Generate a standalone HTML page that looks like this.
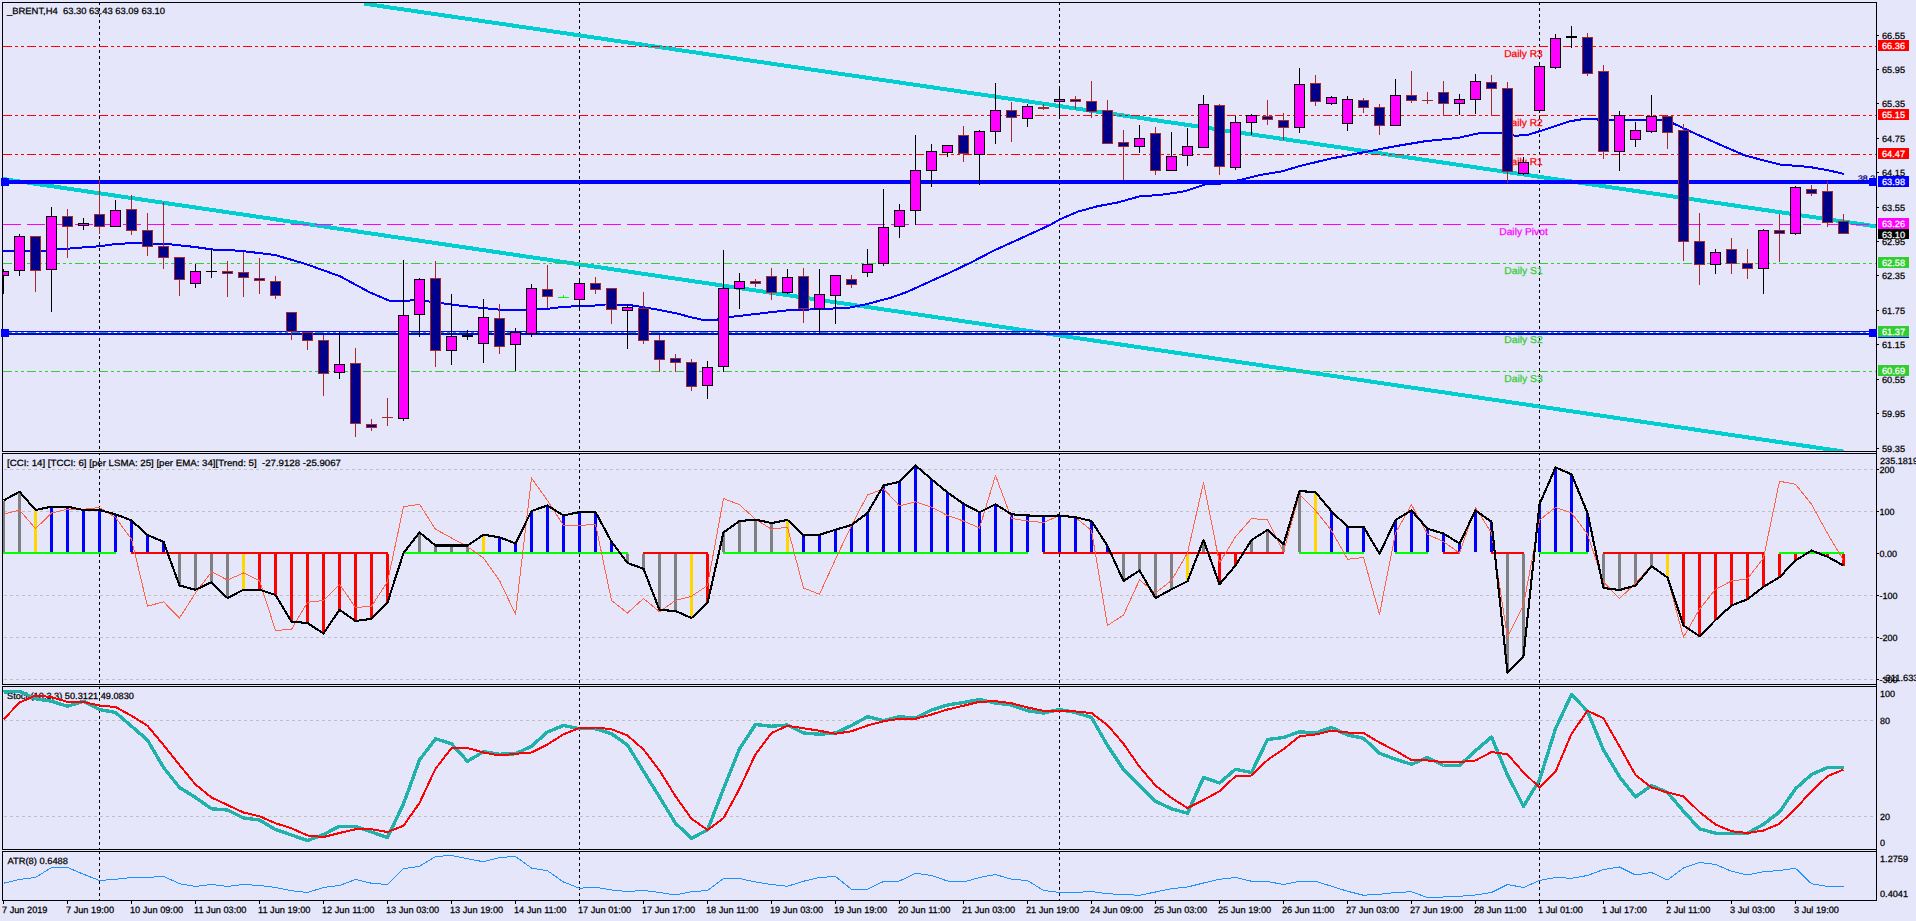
<!DOCTYPE html>
<html><head><meta charset="utf-8"><title>BRENT H4</title>
<style>html,body{margin:0;padding:0;background:#E6E6FA;overflow:hidden}svg{display:block}text{font-family:"Liberation Sans",sans-serif;text-rendering:geometricPrecision}</style>
</head><body>
<svg width="1916" height="921" viewBox="0 0 1916 921" font-family='"Liberation Sans", sans-serif' shape-rendering="crispEdges">
<rect x="0" y="0" width="1916" height="921" fill="#E6E6FA"/>
<defs><clipPath id="cm"><rect x="3" y="3" width="1873" height="448"/></clipPath><clipPath id="cc"><rect x="3" y="454" width="1873" height="230"/></clipPath><clipPath id="cs"><rect x="3" y="687" width="1873" height="162"/></clipPath><clipPath id="ca"><rect x="3" y="852" width="1873" height="48"/></clipPath></defs>
<g clip-path="url(#cm)">
<line x1="99.5" y1="2" x2="99.5" y2="451" stroke="#000" stroke-width="1" stroke-dasharray="3 3"/>
<line x1="579.5" y1="2" x2="579.5" y2="451" stroke="#000" stroke-width="1" stroke-dasharray="3 3"/>
<line x1="1059.5" y1="2" x2="1059.5" y2="451" stroke="#000" stroke-width="1" stroke-dasharray="3 3"/>
<line x1="1539.5" y1="2" x2="1539.5" y2="451" stroke="#000" stroke-width="1" stroke-dasharray="3 3"/>
<line x1="364" y1="3.63" x2="1876" y2="226.36" stroke="#00CED1" stroke-width="4"/>
<line x1="3" y1="179.00" x2="1843.5" y2="451.56" stroke="#00CED1" stroke-width="4"/>
<rect x="3" y="180" width="1873" height="4" fill="#0000FF"/>
<rect x="3" y="331" width="1873" height="4" fill="#0000FF"/>
<line x1="3" y1="332.5" x2="1876" y2="332.5" stroke="#FFFFFF" stroke-width="1"/>
<line x1="3" y1="46.5" x2="1876" y2="46.5" stroke="#FF0000" stroke-width="1" stroke-dasharray="9 3 3 3 3 3"/>
<line x1="3" y1="115.5" x2="1876" y2="115.5" stroke="#FF0000" stroke-width="1" stroke-dasharray="9 3 3 3 3 3"/>
<line x1="3" y1="154.5" x2="1876" y2="154.5" stroke="#FF0000" stroke-width="1" stroke-dasharray="9 3 3 3 3 3"/>
<line x1="3" y1="224.5" x2="1876" y2="224.5" stroke="#FF00FF" stroke-width="1" stroke-dasharray="18 6"/>
<line x1="3" y1="263.5" x2="1876" y2="263.5" stroke="#32CD32" stroke-width="1" stroke-dasharray="9 3 3 3 3 3"/>
<line x1="3" y1="332.5" x2="1876" y2="332.5" stroke="#22B422" stroke-width="1" stroke-dasharray="9 3 3 3 3 3"/>
<line x1="3" y1="371.5" x2="1876" y2="371.5" stroke="#32CD32" stroke-width="1" stroke-dasharray="9 3 3 3 3 3"/>
<text x="1523.5" y="57" font-size="10" fill="#FF0000" stroke="#FF0000" stroke-width="0.25" text-anchor="middle" textLength="38.5" lengthAdjust="spacingAndGlyphs" xml:space="preserve">Daily R3</text>
<text x="1523.5" y="126" font-size="10" fill="#FF0000" stroke="#FF0000" stroke-width="0.25" text-anchor="middle" textLength="38.5" lengthAdjust="spacingAndGlyphs" xml:space="preserve">Daily R2</text>
<text x="1523.5" y="165" font-size="10" fill="#FF0000" stroke="#FF0000" stroke-width="0.25" text-anchor="middle" textLength="38.5" lengthAdjust="spacingAndGlyphs" xml:space="preserve">Daily R1</text>
<text x="1523.5" y="235" font-size="10" fill="#FF00FF" stroke="#FF00FF" stroke-width="0.25" text-anchor="middle" textLength="48.5" lengthAdjust="spacingAndGlyphs" xml:space="preserve">Daily Pivot</text>
<text x="1523.5" y="274" font-size="10" fill="#32CD32" stroke="#32CD32" stroke-width="0.25" text-anchor="middle" textLength="38.5" lengthAdjust="spacingAndGlyphs" xml:space="preserve">Daily S1</text>
<text x="1523.5" y="343" font-size="10" fill="#32CD32" stroke="#32CD32" stroke-width="0.25" text-anchor="middle" textLength="38.5" lengthAdjust="spacingAndGlyphs" xml:space="preserve">Daily S2</text>
<text x="1523.5" y="382" font-size="10" fill="#32CD32" stroke="#32CD32" stroke-width="0.25" text-anchor="middle" textLength="38.5" lengthAdjust="spacingAndGlyphs" xml:space="preserve">Daily S3</text>
<polyline points="3.00,251.25 25.00,251.25 42.50,251.25 57.50,249.50 82.50,247.50 100.00,246.25 117.50,243.75 140.00,243.00 170.00,244.25 195.00,247.00 212.50,249.50 240.00,250.75 275.00,255.00 305.00,263.75 340.00,276.25 370.00,292.50 388.75,300.50 410.00,300.50 415.00,299.50 440.00,303.00 447.50,304.00 465.00,306.25 490.00,308.75 502.50,310.00 525.00,310.00 547.50,308.75 565.00,306.75 595.00,305.50 605.00,304.50 627.50,304.70 650.00,308.25 675.00,313.00 690.00,317.00 702.50,319.75 715.00,320.00 730.00,317.00 757.50,313.75 790.00,310.00 820.00,309.25 850.00,307.50 865.00,304.50 890.00,298.00 907.50,291.75 925.00,283.75 950.00,272.50 970.00,263.00 995.00,250.00 1020.00,238.75 1050.00,225.00 1060.00,219.25 1077.50,211.75 1097.50,206.25 1117.50,202.50 1140.00,196.25 1160.00,195.00 1185.00,191.25 1205.00,184.50 1220.00,183.75 1240.00,180.00 1260.00,175.00 1282.50,171.25 1300.00,166.00 1330.00,158.75 1362.50,152.50 1395.00,146.25 1425.00,141.25 1457.50,138.00 1480.00,133.00 1497.50,132.50 1515.00,135.75 1527.50,135.00 1545.00,129.50 1570.00,121.25 1585.00,118.75 1595.00,119.00 1600.00,120.00 1660.00,120.00 1672.50,123.00 1690.00,131.25 1715.00,142.50 1745.00,155.50 1779.50,164.50 1809.50,167.00 1827.00,170.00 1844.00,174.00" fill="none" stroke="#0000FF" stroke-width="2" stroke-linejoin="round"/>
<rect x="3" y="269" width="1" height="25" fill="#000000"/>
<rect x="-2" y="271" width="11" height="5" fill="#000000"/>
<rect x="-1" y="272" width="9" height="3" fill="#FF00FF"/>
<rect x="19" y="234" width="1" height="42" fill="#000000"/>
<rect x="14" y="236" width="11" height="35" fill="#000000"/>
<rect x="15" y="237" width="9" height="33" fill="#FF00FF"/>
<rect x="35" y="236" width="1" height="56" fill="#A52A2A"/>
<rect x="30" y="236" width="11" height="35" fill="#A52A2A"/>
<rect x="31" y="237" width="9" height="33" fill="#00008B"/>
<rect x="51" y="207" width="1" height="105" fill="#000000"/>
<rect x="46" y="216" width="11" height="54" fill="#000000"/>
<rect x="47" y="217" width="9" height="52" fill="#FF00FF"/>
<rect x="67" y="209" width="1" height="49" fill="#A52A2A"/>
<rect x="62" y="216" width="11" height="11" fill="#A52A2A"/>
<rect x="63" y="217" width="9" height="9" fill="#00008B"/>
<rect x="83" y="218" width="1" height="12" fill="#000000"/>
<rect x="78" y="223" width="11" height="3" fill="#000000"/>
<rect x="79" y="224" width="9" height="1" fill="#FF00FF"/>
<rect x="99" y="179" width="1" height="55" fill="#A52A2A"/>
<rect x="94" y="214" width="11" height="13" fill="#A52A2A"/>
<rect x="95" y="215" width="9" height="11" fill="#00008B"/>
<rect x="115" y="200" width="1" height="27" fill="#000000"/>
<rect x="110" y="210" width="11" height="17" fill="#000000"/>
<rect x="111" y="211" width="9" height="15" fill="#FF00FF"/>
<rect x="131" y="195" width="1" height="40" fill="#A52A2A"/>
<rect x="126" y="209" width="11" height="22" fill="#A52A2A"/>
<rect x="127" y="210" width="9" height="20" fill="#00008B"/>
<rect x="147" y="213" width="1" height="43" fill="#A52A2A"/>
<rect x="142" y="230" width="11" height="17" fill="#A52A2A"/>
<rect x="143" y="231" width="9" height="15" fill="#00008B"/>
<rect x="163" y="202" width="1" height="67" fill="#A52A2A"/>
<rect x="158" y="246" width="11" height="12" fill="#A52A2A"/>
<rect x="159" y="247" width="9" height="10" fill="#00008B"/>
<rect x="179" y="257" width="1" height="39" fill="#A52A2A"/>
<rect x="174" y="257" width="11" height="23" fill="#A52A2A"/>
<rect x="175" y="258" width="9" height="21" fill="#00008B"/>
<rect x="195" y="264" width="1" height="24" fill="#000000"/>
<rect x="190" y="271" width="11" height="13" fill="#000000"/>
<rect x="191" y="272" width="9" height="11" fill="#FF00FF"/>
<rect x="211" y="249" width="1" height="29" fill="#000000"/>
<rect x="206" y="271" width="11" height="1" fill="#000000"/>
<rect x="227" y="261" width="1" height="36" fill="#A52A2A"/>
<rect x="222" y="271" width="11" height="3" fill="#A52A2A"/>
<rect x="223" y="272" width="9" height="1" fill="#00008B"/>
<rect x="243" y="252" width="1" height="45" fill="#A52A2A"/>
<rect x="238" y="272" width="11" height="6" fill="#A52A2A"/>
<rect x="239" y="273" width="9" height="4" fill="#00008B"/>
<rect x="259" y="258" width="1" height="36" fill="#A52A2A"/>
<rect x="254" y="278" width="11" height="3" fill="#A52A2A"/>
<rect x="255" y="279" width="9" height="1" fill="#00008B"/>
<rect x="275" y="276" width="1" height="23" fill="#A52A2A"/>
<rect x="270" y="281" width="11" height="15" fill="#A52A2A"/>
<rect x="271" y="282" width="9" height="13" fill="#00008B"/>
<rect x="291" y="312" width="1" height="28" fill="#A52A2A"/>
<rect x="286" y="312" width="11" height="20" fill="#A52A2A"/>
<rect x="287" y="313" width="9" height="18" fill="#00008B"/>
<rect x="307" y="332" width="1" height="18" fill="#A52A2A"/>
<rect x="302" y="332" width="11" height="9" fill="#A52A2A"/>
<rect x="303" y="333" width="9" height="7" fill="#00008B"/>
<rect x="323" y="335" width="1" height="61" fill="#A52A2A"/>
<rect x="318" y="340" width="11" height="34" fill="#A52A2A"/>
<rect x="319" y="341" width="9" height="32" fill="#00008B"/>
<rect x="339" y="332" width="1" height="47" fill="#000000"/>
<rect x="334" y="364" width="11" height="9" fill="#000000"/>
<rect x="335" y="365" width="9" height="7" fill="#FF00FF"/>
<rect x="355" y="348" width="1" height="89" fill="#A52A2A"/>
<rect x="350" y="363" width="11" height="61" fill="#A52A2A"/>
<rect x="351" y="364" width="9" height="59" fill="#00008B"/>
<rect x="371" y="419" width="1" height="12" fill="#A52A2A"/>
<rect x="366" y="424" width="11" height="4" fill="#A52A2A"/>
<rect x="367" y="425" width="9" height="2" fill="#00008B"/>
<rect x="387" y="398" width="1" height="28" fill="#A52A2A"/>
<rect x="382" y="417" width="11" height="1" fill="#A52A2A"/>
<rect x="403" y="260" width="1" height="161" fill="#000000"/>
<rect x="398" y="315" width="11" height="104" fill="#000000"/>
<rect x="399" y="316" width="9" height="102" fill="#FF00FF"/>
<rect x="419" y="278" width="1" height="59" fill="#000000"/>
<rect x="414" y="279" width="11" height="36" fill="#000000"/>
<rect x="415" y="280" width="9" height="34" fill="#FF00FF"/>
<rect x="435" y="261" width="1" height="106" fill="#A52A2A"/>
<rect x="430" y="278" width="11" height="73" fill="#A52A2A"/>
<rect x="431" y="279" width="9" height="71" fill="#00008B"/>
<rect x="451" y="294" width="1" height="71" fill="#000000"/>
<rect x="446" y="336" width="11" height="15" fill="#000000"/>
<rect x="447" y="337" width="9" height="13" fill="#FF00FF"/>
<rect x="467" y="330" width="1" height="10" fill="#000000"/>
<rect x="462" y="335" width="11" height="2" fill="#000000"/>
<rect x="483" y="299" width="1" height="64" fill="#000000"/>
<rect x="478" y="317" width="11" height="27" fill="#000000"/>
<rect x="479" y="318" width="9" height="25" fill="#FF00FF"/>
<rect x="499" y="304" width="1" height="50" fill="#A52A2A"/>
<rect x="494" y="318" width="11" height="29" fill="#A52A2A"/>
<rect x="495" y="319" width="9" height="27" fill="#00008B"/>
<rect x="515" y="328" width="1" height="43" fill="#000000"/>
<rect x="510" y="332" width="11" height="13" fill="#000000"/>
<rect x="511" y="333" width="9" height="11" fill="#FF00FF"/>
<rect x="531" y="284" width="1" height="53" fill="#000000"/>
<rect x="526" y="288" width="11" height="46" fill="#000000"/>
<rect x="527" y="289" width="9" height="44" fill="#FF00FF"/>
<rect x="547" y="265" width="1" height="43" fill="#A52A2A"/>
<rect x="542" y="289" width="11" height="8" fill="#A52A2A"/>
<rect x="543" y="290" width="9" height="6" fill="#00008B"/>
<rect x="563" y="295" width="1" height="3" fill="#00FF00"/>
<rect x="558" y="297" width="11" height="1" fill="#00FF00"/>
<rect x="579" y="278" width="1" height="32" fill="#000000"/>
<rect x="574" y="283" width="11" height="17" fill="#000000"/>
<rect x="575" y="284" width="9" height="15" fill="#FF00FF"/>
<rect x="595" y="277" width="1" height="17" fill="#A52A2A"/>
<rect x="590" y="283" width="11" height="7" fill="#A52A2A"/>
<rect x="591" y="284" width="9" height="5" fill="#00008B"/>
<rect x="611" y="288" width="1" height="36" fill="#A52A2A"/>
<rect x="606" y="288" width="11" height="22" fill="#A52A2A"/>
<rect x="607" y="289" width="9" height="20" fill="#00008B"/>
<rect x="627" y="304" width="1" height="45" fill="#000000"/>
<rect x="622" y="307" width="11" height="4" fill="#000000"/>
<rect x="623" y="308" width="9" height="2" fill="#FF00FF"/>
<rect x="643" y="292" width="1" height="52" fill="#A52A2A"/>
<rect x="638" y="308" width="11" height="33" fill="#A52A2A"/>
<rect x="639" y="309" width="9" height="31" fill="#00008B"/>
<rect x="659" y="335" width="1" height="37" fill="#A52A2A"/>
<rect x="654" y="340" width="11" height="20" fill="#A52A2A"/>
<rect x="655" y="341" width="9" height="18" fill="#00008B"/>
<rect x="675" y="354" width="1" height="18" fill="#A52A2A"/>
<rect x="670" y="358" width="11" height="5" fill="#A52A2A"/>
<rect x="671" y="359" width="9" height="3" fill="#00008B"/>
<rect x="691" y="359" width="1" height="32" fill="#A52A2A"/>
<rect x="686" y="362" width="11" height="25" fill="#A52A2A"/>
<rect x="687" y="363" width="9" height="23" fill="#00008B"/>
<rect x="707" y="361" width="1" height="38" fill="#000000"/>
<rect x="702" y="367" width="11" height="19" fill="#000000"/>
<rect x="703" y="368" width="9" height="17" fill="#FF00FF"/>
<rect x="723" y="250" width="1" height="122" fill="#000000"/>
<rect x="718" y="288" width="11" height="79" fill="#000000"/>
<rect x="719" y="289" width="9" height="77" fill="#FF00FF"/>
<rect x="739" y="273" width="1" height="36" fill="#000000"/>
<rect x="734" y="281" width="11" height="8" fill="#000000"/>
<rect x="735" y="282" width="9" height="6" fill="#FF00FF"/>
<rect x="755" y="279" width="1" height="8" fill="#A52A2A"/>
<rect x="750" y="281" width="11" height="3" fill="#A52A2A"/>
<rect x="751" y="282" width="9" height="1" fill="#00008B"/>
<rect x="771" y="268" width="1" height="32" fill="#A52A2A"/>
<rect x="766" y="276" width="11" height="17" fill="#A52A2A"/>
<rect x="767" y="277" width="9" height="15" fill="#00008B"/>
<rect x="787" y="269" width="1" height="25" fill="#000000"/>
<rect x="782" y="277" width="11" height="16" fill="#000000"/>
<rect x="783" y="278" width="9" height="14" fill="#FF00FF"/>
<rect x="803" y="268" width="1" height="55" fill="#A52A2A"/>
<rect x="798" y="276" width="11" height="33" fill="#A52A2A"/>
<rect x="799" y="277" width="9" height="31" fill="#00008B"/>
<rect x="819" y="269" width="1" height="65" fill="#000000"/>
<rect x="814" y="294" width="11" height="15" fill="#000000"/>
<rect x="815" y="295" width="9" height="13" fill="#FF00FF"/>
<rect x="835" y="275" width="1" height="49" fill="#000000"/>
<rect x="830" y="275" width="11" height="21" fill="#000000"/>
<rect x="831" y="276" width="9" height="19" fill="#FF00FF"/>
<rect x="851" y="275" width="1" height="13" fill="#A52A2A"/>
<rect x="846" y="279" width="11" height="6" fill="#A52A2A"/>
<rect x="847" y="280" width="9" height="4" fill="#00008B"/>
<rect x="867" y="249" width="1" height="28" fill="#000000"/>
<rect x="862" y="264" width="11" height="9" fill="#000000"/>
<rect x="863" y="265" width="9" height="7" fill="#FF00FF"/>
<rect x="883" y="189" width="1" height="77" fill="#000000"/>
<rect x="878" y="227" width="11" height="37" fill="#000000"/>
<rect x="879" y="228" width="9" height="35" fill="#FF00FF"/>
<rect x="899" y="204" width="1" height="34" fill="#000000"/>
<rect x="894" y="210" width="11" height="17" fill="#000000"/>
<rect x="895" y="211" width="9" height="15" fill="#FF00FF"/>
<rect x="915" y="135" width="1" height="90" fill="#000000"/>
<rect x="910" y="170" width="11" height="41" fill="#000000"/>
<rect x="911" y="171" width="9" height="39" fill="#FF00FF"/>
<rect x="931" y="144" width="1" height="43" fill="#000000"/>
<rect x="926" y="151" width="11" height="20" fill="#000000"/>
<rect x="927" y="152" width="9" height="18" fill="#FF00FF"/>
<rect x="947" y="145" width="1" height="12" fill="#000000"/>
<rect x="942" y="145" width="11" height="8" fill="#000000"/>
<rect x="943" y="146" width="9" height="6" fill="#FF00FF"/>
<rect x="963" y="126" width="1" height="36" fill="#A52A2A"/>
<rect x="958" y="135" width="11" height="19" fill="#A52A2A"/>
<rect x="959" y="136" width="9" height="17" fill="#00008B"/>
<rect x="979" y="130" width="1" height="55" fill="#000000"/>
<rect x="974" y="131" width="11" height="24" fill="#000000"/>
<rect x="975" y="132" width="9" height="22" fill="#FF00FF"/>
<rect x="995" y="83" width="1" height="61" fill="#000000"/>
<rect x="990" y="110" width="11" height="22" fill="#000000"/>
<rect x="991" y="111" width="9" height="20" fill="#FF00FF"/>
<rect x="1011" y="102" width="1" height="40" fill="#A52A2A"/>
<rect x="1006" y="110" width="11" height="8" fill="#A52A2A"/>
<rect x="1007" y="111" width="9" height="6" fill="#00008B"/>
<rect x="1027" y="104" width="1" height="23" fill="#000000"/>
<rect x="1022" y="106" width="11" height="13" fill="#000000"/>
<rect x="1023" y="107" width="9" height="11" fill="#FF00FF"/>
<rect x="1043" y="104" width="1" height="6" fill="#A52A2A"/>
<rect x="1038" y="107" width="11" height="2" fill="#A52A2A"/>
<rect x="1059" y="86" width="1" height="33" fill="#000000"/>
<rect x="1054" y="99" width="11" height="3" fill="#000000"/>
<rect x="1055" y="100" width="9" height="1" fill="#FF00FF"/>
<rect x="1075" y="96" width="1" height="13" fill="#A52A2A"/>
<rect x="1070" y="99" width="11" height="3" fill="#A52A2A"/>
<rect x="1071" y="100" width="9" height="1" fill="#00008B"/>
<rect x="1091" y="81" width="1" height="37" fill="#A52A2A"/>
<rect x="1086" y="101" width="11" height="11" fill="#A52A2A"/>
<rect x="1087" y="102" width="9" height="9" fill="#00008B"/>
<rect x="1107" y="100" width="1" height="44" fill="#A52A2A"/>
<rect x="1102" y="110" width="11" height="34" fill="#A52A2A"/>
<rect x="1103" y="111" width="9" height="32" fill="#00008B"/>
<rect x="1123" y="130" width="1" height="50" fill="#A52A2A"/>
<rect x="1118" y="142" width="11" height="5" fill="#A52A2A"/>
<rect x="1119" y="143" width="9" height="3" fill="#00008B"/>
<rect x="1139" y="125" width="1" height="28" fill="#000000"/>
<rect x="1134" y="138" width="11" height="9" fill="#000000"/>
<rect x="1135" y="139" width="9" height="7" fill="#FF00FF"/>
<rect x="1155" y="127" width="1" height="48" fill="#A52A2A"/>
<rect x="1150" y="133" width="11" height="38" fill="#A52A2A"/>
<rect x="1151" y="134" width="9" height="36" fill="#00008B"/>
<rect x="1171" y="132" width="1" height="39" fill="#000000"/>
<rect x="1166" y="156" width="11" height="15" fill="#000000"/>
<rect x="1167" y="157" width="9" height="13" fill="#FF00FF"/>
<rect x="1187" y="128" width="1" height="38" fill="#000000"/>
<rect x="1182" y="146" width="11" height="10" fill="#000000"/>
<rect x="1183" y="147" width="9" height="8" fill="#FF00FF"/>
<rect x="1203" y="95" width="1" height="53" fill="#000000"/>
<rect x="1198" y="104" width="11" height="44" fill="#000000"/>
<rect x="1199" y="105" width="9" height="42" fill="#FF00FF"/>
<rect x="1219" y="104" width="1" height="71" fill="#A52A2A"/>
<rect x="1214" y="105" width="11" height="62" fill="#A52A2A"/>
<rect x="1215" y="106" width="9" height="60" fill="#00008B"/>
<rect x="1235" y="116" width="1" height="54" fill="#000000"/>
<rect x="1230" y="122" width="11" height="46" fill="#000000"/>
<rect x="1231" y="123" width="9" height="44" fill="#FF00FF"/>
<rect x="1251" y="114" width="1" height="21" fill="#000000"/>
<rect x="1246" y="115" width="11" height="8" fill="#000000"/>
<rect x="1247" y="116" width="9" height="6" fill="#FF00FF"/>
<rect x="1267" y="100" width="1" height="25" fill="#A52A2A"/>
<rect x="1262" y="116" width="11" height="4" fill="#A52A2A"/>
<rect x="1263" y="117" width="9" height="2" fill="#00008B"/>
<rect x="1283" y="113" width="1" height="27" fill="#A52A2A"/>
<rect x="1278" y="120" width="11" height="8" fill="#A52A2A"/>
<rect x="1279" y="121" width="9" height="6" fill="#00008B"/>
<rect x="1299" y="68" width="1" height="65" fill="#000000"/>
<rect x="1294" y="84" width="11" height="44" fill="#000000"/>
<rect x="1295" y="85" width="9" height="42" fill="#FF00FF"/>
<rect x="1315" y="75" width="1" height="31" fill="#A52A2A"/>
<rect x="1310" y="83" width="11" height="19" fill="#A52A2A"/>
<rect x="1311" y="84" width="9" height="17" fill="#00008B"/>
<rect x="1331" y="96" width="1" height="9" fill="#000000"/>
<rect x="1326" y="97" width="11" height="7" fill="#000000"/>
<rect x="1327" y="98" width="9" height="5" fill="#FF00FF"/>
<rect x="1347" y="96" width="1" height="35" fill="#000000"/>
<rect x="1342" y="99" width="11" height="25" fill="#000000"/>
<rect x="1343" y="100" width="9" height="23" fill="#FF00FF"/>
<rect x="1363" y="98" width="1" height="15" fill="#A52A2A"/>
<rect x="1358" y="100" width="11" height="8" fill="#A52A2A"/>
<rect x="1359" y="101" width="9" height="6" fill="#00008B"/>
<rect x="1379" y="104" width="1" height="31" fill="#A52A2A"/>
<rect x="1374" y="107" width="11" height="19" fill="#A52A2A"/>
<rect x="1375" y="108" width="9" height="17" fill="#00008B"/>
<rect x="1395" y="79" width="1" height="47" fill="#000000"/>
<rect x="1390" y="95" width="11" height="31" fill="#000000"/>
<rect x="1391" y="96" width="9" height="29" fill="#FF00FF"/>
<rect x="1411" y="71" width="1" height="32" fill="#A52A2A"/>
<rect x="1406" y="95" width="11" height="6" fill="#A52A2A"/>
<rect x="1407" y="96" width="9" height="4" fill="#00008B"/>
<rect x="1427" y="92" width="1" height="12" fill="#A52A2A"/>
<rect x="1422" y="100" width="11" height="1" fill="#A52A2A"/>
<rect x="1443" y="81" width="1" height="34" fill="#A52A2A"/>
<rect x="1438" y="92" width="11" height="12" fill="#A52A2A"/>
<rect x="1439" y="93" width="9" height="10" fill="#00008B"/>
<rect x="1459" y="94" width="1" height="21" fill="#000000"/>
<rect x="1454" y="99" width="11" height="5" fill="#000000"/>
<rect x="1455" y="100" width="9" height="3" fill="#FF00FF"/>
<rect x="1475" y="74" width="1" height="40" fill="#000000"/>
<rect x="1470" y="81" width="11" height="19" fill="#000000"/>
<rect x="1471" y="82" width="9" height="17" fill="#FF00FF"/>
<rect x="1491" y="75" width="1" height="40" fill="#A52A2A"/>
<rect x="1486" y="82" width="11" height="7" fill="#A52A2A"/>
<rect x="1487" y="83" width="9" height="5" fill="#00008B"/>
<rect x="1507" y="82" width="1" height="101" fill="#A52A2A"/>
<rect x="1502" y="88" width="11" height="84" fill="#A52A2A"/>
<rect x="1503" y="89" width="9" height="82" fill="#00008B"/>
<rect x="1523" y="157" width="1" height="18" fill="#000000"/>
<rect x="1518" y="162" width="11" height="12" fill="#000000"/>
<rect x="1519" y="163" width="9" height="10" fill="#FF00FF"/>
<rect x="1539" y="62" width="1" height="51" fill="#000000"/>
<rect x="1534" y="66" width="11" height="45" fill="#000000"/>
<rect x="1535" y="67" width="9" height="43" fill="#FF00FF"/>
<rect x="1555" y="34" width="1" height="35" fill="#000000"/>
<rect x="1550" y="38" width="11" height="30" fill="#000000"/>
<rect x="1551" y="39" width="9" height="28" fill="#FF00FF"/>
<rect x="1571" y="26" width="1" height="22" fill="#000000"/>
<rect x="1566" y="36" width="11" height="2" fill="#000000"/>
<rect x="1587" y="33" width="1" height="43" fill="#A52A2A"/>
<rect x="1582" y="37" width="11" height="37" fill="#A52A2A"/>
<rect x="1583" y="38" width="9" height="35" fill="#00008B"/>
<rect x="1603" y="65" width="1" height="94" fill="#A52A2A"/>
<rect x="1598" y="71" width="11" height="81" fill="#A52A2A"/>
<rect x="1599" y="72" width="9" height="79" fill="#00008B"/>
<rect x="1619" y="111" width="1" height="60" fill="#000000"/>
<rect x="1614" y="115" width="11" height="37" fill="#000000"/>
<rect x="1615" y="116" width="9" height="35" fill="#FF00FF"/>
<rect x="1635" y="122" width="1" height="25" fill="#000000"/>
<rect x="1630" y="130" width="11" height="10" fill="#000000"/>
<rect x="1631" y="131" width="9" height="8" fill="#FF00FF"/>
<rect x="1651" y="95" width="1" height="38" fill="#000000"/>
<rect x="1646" y="116" width="11" height="16" fill="#000000"/>
<rect x="1647" y="117" width="9" height="14" fill="#FF00FF"/>
<rect x="1667" y="116" width="1" height="33" fill="#A52A2A"/>
<rect x="1662" y="116" width="11" height="17" fill="#A52A2A"/>
<rect x="1663" y="117" width="9" height="15" fill="#00008B"/>
<rect x="1683" y="124" width="1" height="137" fill="#A52A2A"/>
<rect x="1678" y="130" width="11" height="112" fill="#A52A2A"/>
<rect x="1679" y="131" width="9" height="110" fill="#00008B"/>
<rect x="1699" y="213" width="1" height="72" fill="#A52A2A"/>
<rect x="1694" y="241" width="11" height="24" fill="#A52A2A"/>
<rect x="1695" y="242" width="9" height="22" fill="#00008B"/>
<rect x="1715" y="249" width="1" height="25" fill="#000000"/>
<rect x="1710" y="252" width="11" height="13" fill="#000000"/>
<rect x="1711" y="253" width="9" height="11" fill="#FF00FF"/>
<rect x="1731" y="238" width="1" height="36" fill="#A52A2A"/>
<rect x="1726" y="249" width="11" height="15" fill="#A52A2A"/>
<rect x="1727" y="250" width="9" height="13" fill="#00008B"/>
<rect x="1747" y="249" width="1" height="30" fill="#A52A2A"/>
<rect x="1742" y="263" width="11" height="6" fill="#A52A2A"/>
<rect x="1743" y="264" width="9" height="4" fill="#00008B"/>
<rect x="1763" y="229" width="1" height="65" fill="#000000"/>
<rect x="1758" y="230" width="11" height="39" fill="#000000"/>
<rect x="1759" y="231" width="9" height="37" fill="#FF00FF"/>
<rect x="1779" y="214" width="1" height="48" fill="#A52A2A"/>
<rect x="1774" y="230" width="11" height="4" fill="#A52A2A"/>
<rect x="1775" y="231" width="9" height="2" fill="#00008B"/>
<rect x="1795" y="186" width="1" height="49" fill="#000000"/>
<rect x="1790" y="187" width="11" height="47" fill="#000000"/>
<rect x="1791" y="188" width="9" height="45" fill="#FF00FF"/>
<rect x="1811" y="185" width="1" height="11" fill="#A52A2A"/>
<rect x="1806" y="189" width="11" height="5" fill="#A52A2A"/>
<rect x="1807" y="190" width="9" height="3" fill="#00008B"/>
<rect x="1827" y="181" width="1" height="46" fill="#A52A2A"/>
<rect x="1822" y="191" width="11" height="32" fill="#A52A2A"/>
<rect x="1823" y="192" width="9" height="30" fill="#00008B"/>
<rect x="1843" y="214" width="1" height="20" fill="#A52A2A"/>
<rect x="1838" y="221" width="11" height="13" fill="#A52A2A"/>
<rect x="1839" y="222" width="9" height="11" fill="#00008B"/>
</g>
<text x="7" y="13.5" font-size="9" fill="#000" stroke="#000" stroke-width="0.25" textLength="158" lengthAdjust="spacingAndGlyphs" xml:space="preserve">_BRENT,H4  63.30 63.43 63.09 63.10</text>
<g clip-path="url(#cc)">
<line x1="99.5" y1="452" x2="99.5" y2="684" stroke="#000" stroke-width="1" stroke-dasharray="3 3"/>
<line x1="579.5" y1="452" x2="579.5" y2="684" stroke="#000" stroke-width="1" stroke-dasharray="3 3"/>
<line x1="1059.5" y1="452" x2="1059.5" y2="684" stroke="#000" stroke-width="1" stroke-dasharray="3 3"/>
<line x1="1539.5" y1="452" x2="1539.5" y2="684" stroke="#000" stroke-width="1" stroke-dasharray="3 3"/>
<line x1="4" y1="469.5" x2="1876" y2="469.5" stroke="#C0C0C0" stroke-width="1" stroke-dasharray="3 3"/>
<line x1="4" y1="511.5" x2="1876" y2="511.5" stroke="#C0C0C0" stroke-width="1" stroke-dasharray="3 3"/>
<line x1="4" y1="595.5" x2="1876" y2="595.5" stroke="#C0C0C0" stroke-width="1" stroke-dasharray="3 3"/>
<line x1="4" y1="637.5" x2="1876" y2="637.5" stroke="#C0C0C0" stroke-width="1" stroke-dasharray="3 3"/>
<line x1="4" y1="679.5" x2="1876" y2="679.5" stroke="#C0C0C0" stroke-width="1" stroke-dasharray="3 3"/>
<rect x="2" y="501" width="3" height="51" fill="#808080"/>
<rect x="18" y="492" width="3" height="60" fill="#808080"/>
<rect x="34" y="510" width="3" height="42" fill="#FFD700"/>
<rect x="50" y="507" width="3" height="45" fill="#0000FF"/>
<rect x="66" y="507" width="3" height="45" fill="#0000FF"/>
<rect x="82" y="510" width="3" height="42" fill="#0000FF"/>
<rect x="98" y="510" width="3" height="42" fill="#0000FF"/>
<rect x="114" y="514" width="3" height="38" fill="#0000FF"/>
<rect x="130" y="521" width="3" height="31" fill="#0000FF"/>
<rect x="146" y="535" width="3" height="17" fill="#0000FF"/>
<rect x="162" y="542" width="3" height="10" fill="#0000FF"/>
<rect x="178" y="554" width="3" height="32" fill="#808080"/>
<rect x="194" y="554" width="3" height="36" fill="#808080"/>
<rect x="210" y="554" width="3" height="28" fill="#808080"/>
<rect x="226" y="554" width="3" height="44" fill="#808080"/>
<rect x="242" y="554" width="3" height="36" fill="#FFD700"/>
<rect x="258" y="554" width="3" height="36" fill="#FF0000"/>
<rect x="274" y="554" width="3" height="41" fill="#FF0000"/>
<rect x="290" y="554" width="3" height="68" fill="#FF0000"/>
<rect x="306" y="554" width="3" height="69" fill="#FF0000"/>
<rect x="322" y="554" width="3" height="80" fill="#FF0000"/>
<rect x="338" y="554" width="3" height="56" fill="#FF0000"/>
<rect x="354" y="554" width="3" height="67" fill="#FF0000"/>
<rect x="370" y="554" width="3" height="65" fill="#FF0000"/>
<rect x="386" y="554" width="3" height="49" fill="#FF0000"/>
<rect x="418" y="533" width="3" height="19" fill="#808080"/>
<rect x="434" y="546" width="3" height="6" fill="#808080"/>
<rect x="450" y="546" width="3" height="6" fill="#808080"/>
<rect x="466" y="546" width="3" height="6" fill="#808080"/>
<rect x="482" y="535" width="3" height="17" fill="#FFD700"/>
<rect x="498" y="537" width="3" height="15" fill="#0000FF"/>
<rect x="514" y="544" width="3" height="8" fill="#0000FF"/>
<rect x="530" y="511" width="3" height="41" fill="#0000FF"/>
<rect x="546" y="506" width="3" height="46" fill="#0000FF"/>
<rect x="562" y="516" width="3" height="36" fill="#0000FF"/>
<rect x="578" y="512" width="3" height="40" fill="#0000FF"/>
<rect x="594" y="512" width="3" height="40" fill="#0000FF"/>
<rect x="610" y="542" width="3" height="10" fill="#0000FF"/>
<rect x="626" y="554" width="3" height="9" fill="#808080"/>
<rect x="642" y="554" width="3" height="15" fill="#808080"/>
<rect x="658" y="554" width="3" height="56" fill="#808080"/>
<rect x="674" y="554" width="3" height="57" fill="#808080"/>
<rect x="690" y="554" width="3" height="64" fill="#FFD700"/>
<rect x="706" y="554" width="3" height="49" fill="#FF0000"/>
<rect x="722" y="533" width="3" height="19" fill="#808080"/>
<rect x="738" y="521" width="3" height="31" fill="#808080"/>
<rect x="754" y="520" width="3" height="32" fill="#808080"/>
<rect x="770" y="523" width="3" height="29" fill="#808080"/>
<rect x="786" y="520" width="3" height="32" fill="#FFD700"/>
<rect x="802" y="536" width="3" height="16" fill="#0000FF"/>
<rect x="818" y="535" width="3" height="17" fill="#0000FF"/>
<rect x="834" y="530" width="3" height="22" fill="#0000FF"/>
<rect x="850" y="525" width="3" height="27" fill="#0000FF"/>
<rect x="866" y="513" width="3" height="39" fill="#0000FF"/>
<rect x="882" y="486" width="3" height="66" fill="#0000FF"/>
<rect x="898" y="482" width="3" height="70" fill="#0000FF"/>
<rect x="914" y="466" width="3" height="86" fill="#0000FF"/>
<rect x="930" y="479" width="3" height="73" fill="#0000FF"/>
<rect x="946" y="493" width="3" height="59" fill="#0000FF"/>
<rect x="962" y="504" width="3" height="48" fill="#0000FF"/>
<rect x="978" y="512" width="3" height="40" fill="#0000FF"/>
<rect x="994" y="504" width="3" height="48" fill="#0000FF"/>
<rect x="1010" y="514" width="3" height="38" fill="#0000FF"/>
<rect x="1026" y="516" width="3" height="36" fill="#0000FF"/>
<rect x="1042" y="516" width="3" height="36" fill="#0000FF"/>
<rect x="1058" y="516" width="3" height="36" fill="#0000FF"/>
<rect x="1074" y="517" width="3" height="35" fill="#0000FF"/>
<rect x="1090" y="521" width="3" height="31" fill="#0000FF"/>
<rect x="1106" y="546" width="3" height="6" fill="#0000FF"/>
<rect x="1122" y="554" width="3" height="27" fill="#808080"/>
<rect x="1138" y="554" width="3" height="17" fill="#808080"/>
<rect x="1154" y="554" width="3" height="44" fill="#808080"/>
<rect x="1170" y="554" width="3" height="35" fill="#808080"/>
<rect x="1186" y="554" width="3" height="27" fill="#FFD700"/>
<rect x="1202" y="540" width="3" height="12" fill="#808080"/>
<rect x="1218" y="554" width="3" height="30" fill="#FF0000"/>
<rect x="1234" y="554" width="3" height="12" fill="#FF0000"/>
<rect x="1250" y="540" width="3" height="12" fill="#808080"/>
<rect x="1266" y="530" width="3" height="22" fill="#808080"/>
<rect x="1282" y="544" width="3" height="8" fill="#808080"/>
<rect x="1298" y="491" width="3" height="61" fill="#808080"/>
<rect x="1314" y="492" width="3" height="60" fill="#FFD700"/>
<rect x="1330" y="511" width="3" height="41" fill="#0000FF"/>
<rect x="1346" y="527" width="3" height="25" fill="#0000FF"/>
<rect x="1362" y="527" width="3" height="25" fill="#0000FF"/>
<rect x="1394" y="520" width="3" height="32" fill="#0000FF"/>
<rect x="1410" y="511" width="3" height="41" fill="#0000FF"/>
<rect x="1426" y="529" width="3" height="23" fill="#0000FF"/>
<rect x="1442" y="534" width="3" height="18" fill="#0000FF"/>
<rect x="1458" y="544" width="3" height="8" fill="#0000FF"/>
<rect x="1474" y="511" width="3" height="41" fill="#0000FF"/>
<rect x="1490" y="522" width="3" height="30" fill="#0000FF"/>
<rect x="1506" y="554" width="3" height="119" fill="#808080"/>
<rect x="1522" y="554" width="3" height="102" fill="#808080"/>
<rect x="1538" y="504" width="3" height="48" fill="#0000FF"/>
<rect x="1554" y="468" width="3" height="84" fill="#0000FF"/>
<rect x="1570" y="474" width="3" height="78" fill="#0000FF"/>
<rect x="1586" y="513" width="3" height="39" fill="#0000FF"/>
<rect x="1602" y="554" width="3" height="34" fill="#808080"/>
<rect x="1618" y="554" width="3" height="36" fill="#808080"/>
<rect x="1634" y="554" width="3" height="32" fill="#808080"/>
<rect x="1650" y="554" width="3" height="12" fill="#808080"/>
<rect x="1666" y="554" width="3" height="24" fill="#FFD700"/>
<rect x="1682" y="554" width="3" height="72" fill="#FF0000"/>
<rect x="1698" y="554" width="3" height="82" fill="#FF0000"/>
<rect x="1714" y="554" width="3" height="66" fill="#FF0000"/>
<rect x="1730" y="554" width="3" height="52" fill="#FF0000"/>
<rect x="1746" y="554" width="3" height="45" fill="#FF0000"/>
<rect x="1762" y="554" width="3" height="33" fill="#FF0000"/>
<rect x="1778" y="554" width="3" height="23" fill="#FF0000"/>
<rect x="1794" y="554" width="3" height="7" fill="#FF0000"/>
<rect x="1826" y="554" width="3" height="3" fill="#FF0000"/>
<rect x="1842" y="554" width="3" height="12" fill="#FF0000"/>
<rect x="3" y="552" width="113" height="2" fill="#00FF00"/>
<rect x="131" y="552" width="257" height="2" fill="#FF0000"/>
<rect x="403" y="552" width="225" height="2" fill="#00FF00"/>
<rect x="643" y="552" width="65" height="2" fill="#FF0000"/>
<rect x="723" y="552" width="305" height="2" fill="#00FF00"/>
<rect x="1043" y="552" width="241" height="2" fill="#FF0000"/>
<rect x="1299" y="552" width="65" height="2" fill="#00FF00"/>
<rect x="1395" y="552" width="33" height="2" fill="#00FF00"/>
<rect x="1443" y="552" width="17" height="2" fill="#FF0000"/>
<rect x="1491" y="552" width="33" height="2" fill="#FF0000"/>
<rect x="1539" y="552" width="49" height="2" fill="#00FF00"/>
<rect x="1603" y="552" width="161" height="2" fill="#FF0000"/>
<rect x="1779" y="552" width="65" height="2" fill="#00FF00"/>
<polyline points="3.50,514.25 19.50,510.00 35.50,528.75 51.50,513.00 67.50,509.25 83.50,509.25 99.50,507.50 115.50,517.50 131.50,539.25 147.50,606.25 163.50,601.75 179.50,618.00 195.50,593.00 211.50,571.75 227.50,580.00 243.50,573.00 259.50,580.50 275.50,630.50 291.50,629.25 307.50,602.25 323.50,600.50 339.50,584.25 355.50,607.50 371.50,606.25 387.50,581.75 403.50,506.75 419.50,504.25 435.50,529.25 451.50,538.00 467.50,546.75 483.50,558.00 499.50,580.50 515.50,614.25 531.50,478.00 547.50,500.50 563.50,525.50 579.50,525.50 595.50,524.25 611.50,600.50 627.50,613.00 643.50,598.50 659.50,611.75 675.50,600.50 691.50,596.25 707.50,585.50 723.50,498.50 739.50,504.75 755.50,519.25 771.50,529.25 787.50,527.25 803.50,588.00 819.50,594.25 835.50,559.25 851.50,525.50 867.50,495.00 883.50,488.75 899.50,506.00 915.50,501.75 931.50,507.25 947.50,515.50 963.50,521.00 979.50,528.00 995.50,475.50 1011.50,518.50 1027.50,521.00 1043.50,522.50 1059.50,515.50 1075.50,517.50 1091.50,530.50 1107.50,625.50 1123.50,615.00 1139.50,580.00 1155.50,593.00 1171.50,580.50 1187.50,553.00 1203.50,482.50 1219.50,563.00 1235.50,536.75 1251.50,518.50 1267.50,520.00 1283.50,551.75 1299.50,494.25 1315.50,510.50 1331.50,530.50 1347.50,559.25 1363.50,557.50 1379.50,614.25 1395.50,533.00 1411.50,504.75 1427.50,534.25 1443.50,541.75 1459.50,553.00 1475.50,507.50 1491.50,533.00 1507.50,637.25 1523.50,605.00 1539.50,520.00 1555.50,507.50 1571.50,513.00 1587.50,534.25 1603.50,581.75 1619.50,598.75 1635.50,583.00 1651.50,565.50 1667.50,578.00 1683.50,637.25 1699.50,609.25 1715.50,589.25 1731.50,581.00 1747.50,578.75 1763.50,558.00 1779.50,481.25 1795.50,484.25 1811.50,504.25 1827.50,533.50 1843.50,560.50" fill="none" stroke="#FF6347" stroke-width="1" stroke-linejoin="round"/>
<polyline points="3.50,500.50 19.50,491.75 35.50,510.00 51.50,506.75 67.50,506.75 83.50,510.00 99.50,510.00 115.50,514.25 131.50,520.50 147.50,535.00 163.50,541.75 179.50,585.50 195.50,589.75 211.50,582.25 227.50,598.00 243.50,589.75 259.50,589.75 275.50,595.00 291.50,621.75 307.50,623.00 323.50,633.50 339.50,609.75 355.50,621.00 371.50,618.75 387.50,602.50 403.50,553.00 419.50,532.50 435.50,545.50 451.50,545.50 467.50,545.50 483.50,534.75 499.50,537.25 515.50,543.50 531.50,511.00 547.50,505.50 563.50,515.50 579.50,512.00 595.50,512.00 611.50,541.75 627.50,563.00 643.50,568.75 659.50,610.00 675.50,611.00 691.50,618.00 707.50,603.00 723.50,532.50 739.50,521.00 755.50,519.75 771.50,523.00 787.50,520.00 803.50,535.50 819.50,534.75 835.50,529.75 851.50,525.00 867.50,513.00 883.50,485.50 899.50,481.75 915.50,465.50 931.50,479.25 947.50,492.50 963.50,503.75 979.50,512.25 995.50,504.25 1011.50,514.25 1027.50,515.50 1043.50,516.00 1059.50,515.50 1075.50,517.25 1091.50,521.00 1107.50,546.00 1123.50,581.00 1139.50,570.50 1155.50,598.00 1171.50,589.25 1187.50,581.25 1203.50,540.00 1219.50,584.25 1235.50,565.50 1251.50,540.00 1267.50,530.00 1283.50,544.25 1299.50,491.00 1315.50,492.25 1331.50,511.25 1347.50,526.75 1363.50,526.75 1379.50,553.75 1395.50,520.00 1411.50,510.50 1427.50,528.75 1443.50,533.50 1459.50,543.50 1475.50,510.50 1491.50,521.75 1507.50,673.00 1523.50,656.00 1539.50,504.25 1555.50,467.50 1571.50,474.25 1587.50,513.00 1603.50,588.00 1619.50,590.00 1635.50,585.50 1651.50,566.25 1667.50,577.50 1683.50,625.50 1699.50,636.25 1715.50,620.00 1731.50,605.50 1747.50,599.25 1763.50,586.75 1779.50,577.25 1795.50,560.50 1811.50,550.50 1827.50,556.75 1843.50,565.50" fill="none" stroke="#000000" stroke-width="2.1" stroke-linejoin="round"/>
</g>
<text x="7" y="465.5" font-size="9" fill="#000" stroke="#000" stroke-width="0.25" textLength="334" lengthAdjust="spacingAndGlyphs" xml:space="preserve">[CCI: 14] [TCCI: 6] [per LSMA: 25] [per EMA: 34][Trend: 5]  -27.9128 -25.9067</text>
<g clip-path="url(#cs)">
<line x1="99.5" y1="686" x2="99.5" y2="849" stroke="#000" stroke-width="1" stroke-dasharray="3 3"/>
<line x1="579.5" y1="686" x2="579.5" y2="849" stroke="#000" stroke-width="1" stroke-dasharray="3 3"/>
<line x1="1059.5" y1="686" x2="1059.5" y2="849" stroke="#000" stroke-width="1" stroke-dasharray="3 3"/>
<line x1="1539.5" y1="686" x2="1539.5" y2="849" stroke="#000" stroke-width="1" stroke-dasharray="3 3"/>
<line x1="4" y1="720.5" x2="1876" y2="720.5" stroke="#C0C0C0" stroke-width="1" stroke-dasharray="3 3"/>
<line x1="4" y1="816.5" x2="1876" y2="816.5" stroke="#C0C0C0" stroke-width="1" stroke-dasharray="3 3"/>
</g>
<text x="7" y="698.5" font-size="9" fill="#000" stroke="#000" stroke-width="0.25" textLength="127" lengthAdjust="spacingAndGlyphs" xml:space="preserve">Stoch(10,3,3) 50.3121 49.0830</text>
<g clip-path="url(#cs)">
<polyline points="3.50,692.00 19.50,691.25 35.50,698.75 51.50,701.25 67.50,706.25 83.50,701.25 99.50,709.50 115.50,712.50 131.50,726.25 147.50,740.00 163.50,767.50 179.50,787.50 195.50,797.50 211.50,808.75 227.50,810.00 243.50,818.00 259.50,820.00 275.50,829.50 291.50,835.00 307.50,840.50 323.50,834.50 339.50,826.25 355.50,826.25 371.50,832.00 387.50,837.50 403.50,803.75 419.50,760.00 435.50,738.75 451.50,743.75 467.50,761.25 483.50,751.75 499.50,754.25 515.50,753.75 531.50,746.25 547.50,732.00 563.50,725.50 579.50,728.75 595.50,728.75 611.50,733.75 627.50,745.00 643.50,771.25 659.50,797.00 675.50,823.25 691.50,838.25 707.50,830.00 723.50,788.75 739.50,748.75 755.50,724.50 771.50,726.25 787.50,725.00 803.50,733.00 819.50,734.25 835.50,733.00 851.50,725.50 867.50,716.75 883.50,720.75 899.50,716.75 915.50,718.00 931.50,710.00 947.50,705.00 963.50,702.50 979.50,699.50 995.50,703.00 1011.50,705.00 1027.50,710.75 1043.50,713.00 1059.50,709.50 1075.50,712.50 1091.50,717.50 1107.50,745.50 1123.50,769.50 1139.50,785.50 1155.50,801.25 1171.50,808.75 1187.50,813.25 1203.50,777.50 1219.50,783.00 1235.50,769.25 1251.50,772.50 1267.50,739.50 1283.50,737.50 1299.50,731.75 1315.50,733.00 1331.50,727.50 1347.50,735.00 1363.50,738.25 1379.50,753.25 1395.50,759.25 1411.50,764.25 1427.50,757.50 1443.50,765.50 1459.50,765.50 1475.50,750.75 1491.50,737.00 1507.50,775.00 1523.50,806.25 1539.50,780.00 1555.50,728.75 1571.50,694.50 1587.50,711.25 1603.50,750.00 1619.50,776.75 1635.50,797.00 1651.50,785.50 1667.50,792.50 1683.50,811.25 1699.50,828.75 1715.50,833.25 1731.50,833.25 1747.50,833.25 1763.50,824.25 1779.50,812.00 1795.50,788.75 1811.50,774.50 1827.50,767.50 1843.50,767.50" fill="none" stroke="#20B2AA" stroke-width="3.4" stroke-linejoin="round"/>
<polyline points="3.50,719.50 19.50,702.50 35.50,695.50 51.50,697.00 67.50,702.00 83.50,702.00 99.50,705.50 115.50,707.00 131.50,715.75 147.50,725.75 163.50,745.00 179.50,765.00 195.50,784.50 211.50,797.50 227.50,805.00 243.50,812.50 259.50,816.25 275.50,823.25 291.50,828.25 307.50,835.50 323.50,837.00 339.50,833.00 355.50,829.25 371.50,829.25 387.50,832.00 403.50,825.75 419.50,803.00 435.50,768.75 451.50,748.00 467.50,748.00 483.50,752.50 499.50,755.50 515.50,753.75 531.50,752.50 547.50,744.50 563.50,734.25 579.50,728.00 595.50,727.50 611.50,729.25 627.50,735.50 643.50,749.50 659.50,770.50 675.50,796.25 691.50,818.75 707.50,830.00 723.50,818.25 739.50,788.75 755.50,754.25 771.50,733.00 787.50,725.75 803.50,728.25 819.50,730.75 835.50,733.75 851.50,731.25 867.50,725.50 883.50,721.25 899.50,718.75 915.50,718.75 931.50,714.50 947.50,709.50 963.50,705.75 979.50,701.75 995.50,701.25 1011.50,703.25 1027.50,707.50 1043.50,710.75 1059.50,710.75 1075.50,711.50 1091.50,713.00 1107.50,725.00 1123.50,743.75 1139.50,766.75 1155.50,785.50 1171.50,798.00 1187.50,808.00 1203.50,800.00 1219.50,791.25 1235.50,776.25 1251.50,775.50 1267.50,760.00 1283.50,749.25 1299.50,736.25 1315.50,734.50 1331.50,730.75 1347.50,732.50 1363.50,733.00 1379.50,742.50 1395.50,750.75 1411.50,760.00 1427.50,760.50 1443.50,762.00 1459.50,762.00 1475.50,760.50 1491.50,752.00 1507.50,754.25 1523.50,772.50 1539.50,787.50 1555.50,771.75 1571.50,733.75 1587.50,710.75 1603.50,718.25 1619.50,746.25 1635.50,775.00 1651.50,787.50 1667.50,792.50 1683.50,796.25 1699.50,812.00 1715.50,824.50 1731.50,831.25 1747.50,833.00 1763.50,830.50 1779.50,823.75 1795.50,808.75 1811.50,791.25 1827.50,776.25 1843.50,769.50" fill="none" stroke="#FF0000" stroke-width="2" stroke-linejoin="round"/>
</g>
<g clip-path="url(#ca)">
<line x1="99.5" y1="851" x2="99.5" y2="900" stroke="#000" stroke-width="1" stroke-dasharray="3 3"/>
<line x1="579.5" y1="851" x2="579.5" y2="900" stroke="#000" stroke-width="1" stroke-dasharray="3 3"/>
<line x1="1059.5" y1="851" x2="1059.5" y2="900" stroke="#000" stroke-width="1" stroke-dasharray="3 3"/>
<line x1="1539.5" y1="851" x2="1539.5" y2="900" stroke="#000" stroke-width="1" stroke-dasharray="3 3"/>
<polyline points="3.50,883.25 19.50,879.50 35.50,877.50 51.50,867.50 67.50,867.50 83.50,874.25 99.50,880.50 115.50,879.25 131.50,877.50 147.50,877.50 163.50,876.25 179.50,883.75 195.50,886.50 211.50,884.50 227.50,886.50 243.50,884.50 259.50,885.50 275.50,887.50 291.50,890.75 307.50,892.50 323.50,887.50 339.50,885.50 355.50,879.50 371.50,883.25 387.50,884.50 403.50,868.75 419.50,866.25 435.50,856.50 451.50,855.50 467.50,858.75 483.50,861.75 499.50,857.50 515.50,856.50 531.50,868.00 547.50,870.75 563.50,882.00 579.50,888.25 595.50,887.25 611.50,890.00 627.50,891.50 643.50,890.50 659.50,892.50 675.50,895.00 691.50,891.75 707.50,890.50 723.50,878.50 739.50,878.50 755.50,882.00 771.50,884.50 787.50,886.25 803.50,881.25 819.50,877.50 835.50,876.50 851.50,889.25 867.50,889.25 883.50,881.50 899.50,881.00 915.50,873.25 931.50,875.50 947.50,881.00 963.50,882.00 979.50,877.50 995.50,874.50 1011.50,879.25 1027.50,880.50 1043.50,890.50 1059.50,892.50 1075.50,892.50 1091.50,891.50 1107.50,893.75 1123.50,894.50 1139.50,895.25 1155.50,892.00 1171.50,888.75 1187.50,887.00 1203.50,883.00 1219.50,879.25 1235.50,877.50 1251.50,881.25 1267.50,881.50 1283.50,884.50 1299.50,881.25 1315.50,881.25 1331.50,886.25 1347.50,891.25 1363.50,895.25 1379.50,894.25 1395.50,892.50 1411.50,891.75 1427.50,897.50 1443.50,897.00 1459.50,896.25 1475.50,895.00 1491.50,892.50 1507.50,884.50 1523.50,887.50 1539.50,880.50 1555.50,877.50 1571.50,878.25 1587.50,875.50 1603.50,869.50 1619.50,867.00 1635.50,875.00 1651.50,872.50 1667.50,880.00 1683.50,868.00 1699.50,862.50 1715.50,864.50 1731.50,871.25 1747.50,875.00 1763.50,871.75 1779.50,870.50 1795.50,868.25 1811.50,883.75 1827.50,886.50 1843.50,886.50" fill="none" stroke="#1E90FF" stroke-width="1" stroke-linejoin="round"/>
</g>
<text x="7.5" y="863.5" font-size="9" fill="#000" stroke="#000" stroke-width="0.25" textLength="60.5" lengthAdjust="spacingAndGlyphs" xml:space="preserve">ATR(8) 0.6488</text>
<rect x="2" y="2" width="1875" height="1" fill="#000"/>
<rect x="2" y="451" width="1875" height="1" fill="#000"/>
<rect x="2" y="2" width="1" height="450" fill="#000"/>
<rect x="1876" y="2" width="1" height="450" fill="#000"/>
<rect x="2" y="453" width="1875" height="1" fill="#000"/>
<rect x="2" y="684" width="1875" height="1" fill="#000"/>
<rect x="2" y="453" width="1" height="232" fill="#000"/>
<rect x="1876" y="453" width="1" height="232" fill="#000"/>
<rect x="2" y="686" width="1875" height="1" fill="#000"/>
<rect x="2" y="849" width="1875" height="1" fill="#000"/>
<rect x="2" y="686" width="1" height="164" fill="#000"/>
<rect x="1876" y="686" width="1" height="164" fill="#000"/>
<rect x="2" y="851" width="1875" height="1" fill="#000"/>
<rect x="2" y="900" width="1875" height="1" fill="#000"/>
<rect x="2" y="851" width="1" height="50" fill="#000"/>
<rect x="1876" y="851" width="1" height="50" fill="#000"/>
<rect x="1876" y="2" width="1" height="899" fill="#000"/>
<rect x="1" y="178" width="8" height="8" fill="#0000FF"/>
<rect x="1869" y="178" width="8" height="8" fill="#0000FF"/>
<rect x="1" y="329" width="8" height="8" fill="#0000FF"/>
<rect x="1869" y="329" width="8" height="8" fill="#0000FF"/>
<text x="1858" y="180.5" font-size="8" fill="#00008B" stroke="#00008B" stroke-width="0.25" textLength="17" lengthAdjust="spacingAndGlyphs" xml:space="preserve">38.2</text>
<rect x="1869" y="178" width="8" height="8" fill="#0000FF"/>
<rect x="1877" y="35" width="2" height="1" fill="#000"/>
<text x="1882" y="38.8" font-size="9" fill="#000" stroke="#000" stroke-width="0.25" textLength="23" lengthAdjust="spacingAndGlyphs" xml:space="preserve">66.55</text>
<rect x="1877" y="69" width="2" height="1" fill="#000"/>
<text x="1882" y="72.8" font-size="9" fill="#000" stroke="#000" stroke-width="0.25" textLength="23" lengthAdjust="spacingAndGlyphs" xml:space="preserve">65.95</text>
<rect x="1877" y="103" width="2" height="1" fill="#000"/>
<text x="1882" y="106.8" font-size="9" fill="#000" stroke="#000" stroke-width="0.25" textLength="23" lengthAdjust="spacingAndGlyphs" xml:space="preserve">65.35</text>
<rect x="1877" y="138" width="2" height="1" fill="#000"/>
<text x="1882" y="141.8" font-size="9" fill="#000" stroke="#000" stroke-width="0.25" textLength="23" lengthAdjust="spacingAndGlyphs" xml:space="preserve">64.75</text>
<rect x="1877" y="172" width="2" height="1" fill="#000"/>
<text x="1882" y="175.8" font-size="9" fill="#000" stroke="#000" stroke-width="0.25" textLength="23" lengthAdjust="spacingAndGlyphs" xml:space="preserve">64.15</text>
<rect x="1877" y="207" width="2" height="1" fill="#000"/>
<text x="1882" y="210.8" font-size="9" fill="#000" stroke="#000" stroke-width="0.25" textLength="23" lengthAdjust="spacingAndGlyphs" xml:space="preserve">63.55</text>
<rect x="1877" y="241" width="2" height="1" fill="#000"/>
<text x="1882" y="244.8" font-size="9" fill="#000" stroke="#000" stroke-width="0.25" textLength="23" lengthAdjust="spacingAndGlyphs" xml:space="preserve">62.95</text>
<rect x="1877" y="275" width="2" height="1" fill="#000"/>
<text x="1882" y="278.8" font-size="9" fill="#000" stroke="#000" stroke-width="0.25" textLength="23" lengthAdjust="spacingAndGlyphs" xml:space="preserve">62.35</text>
<rect x="1877" y="310" width="2" height="1" fill="#000"/>
<text x="1882" y="313.8" font-size="9" fill="#000" stroke="#000" stroke-width="0.25" textLength="23" lengthAdjust="spacingAndGlyphs" xml:space="preserve">61.75</text>
<rect x="1877" y="344" width="2" height="1" fill="#000"/>
<text x="1882" y="347.8" font-size="9" fill="#000" stroke="#000" stroke-width="0.25" textLength="23" lengthAdjust="spacingAndGlyphs" xml:space="preserve">61.15</text>
<rect x="1877" y="379" width="2" height="1" fill="#000"/>
<text x="1882" y="382.8" font-size="9" fill="#000" stroke="#000" stroke-width="0.25" textLength="23" lengthAdjust="spacingAndGlyphs" xml:space="preserve">60.55</text>
<rect x="1877" y="413" width="2" height="1" fill="#000"/>
<text x="1882" y="416.8" font-size="9" fill="#000" stroke="#000" stroke-width="0.25" textLength="23" lengthAdjust="spacingAndGlyphs" xml:space="preserve">59.95</text>
<rect x="1877" y="448" width="2" height="1" fill="#000"/>
<text x="1882" y="451.8" font-size="9" fill="#000" stroke="#000" stroke-width="0.25" textLength="23" lengthAdjust="spacingAndGlyphs" xml:space="preserve">59.35</text>
<rect x="1878" y="40" width="31" height="11" fill="#FF0000"/>
<text x="1882" y="49" font-size="9" fill="#FFF" stroke="#FFF" stroke-width="0.25" textLength="23" lengthAdjust="spacingAndGlyphs" xml:space="preserve">66.36</text>
<rect x="1878" y="109" width="31" height="11" fill="#FF0000"/>
<text x="1882" y="118" font-size="9" fill="#FFF" stroke="#FFF" stroke-width="0.25" textLength="23" lengthAdjust="spacingAndGlyphs" xml:space="preserve">65.15</text>
<rect x="1878" y="148" width="31" height="11" fill="#FF0000"/>
<text x="1882" y="157" font-size="9" fill="#FFF" stroke="#FFF" stroke-width="0.25" textLength="23" lengthAdjust="spacingAndGlyphs" xml:space="preserve">64.47</text>
<rect x="1878" y="176" width="31" height="11" fill="#0000FF"/>
<text x="1882" y="185" font-size="9" fill="#FFF" stroke="#FFF" stroke-width="0.25" textLength="23" lengthAdjust="spacingAndGlyphs" xml:space="preserve">63.98</text>
<rect x="1878" y="218" width="31" height="11" fill="#FF00FF"/>
<text x="1882" y="227" font-size="9" fill="#FFF" stroke="#FFF" stroke-width="0.25" textLength="23" lengthAdjust="spacingAndGlyphs" xml:space="preserve">63.26</text>
<rect x="1878" y="229" width="31" height="10" fill="#000000"/>
<text x="1882" y="238" font-size="9" fill="#FFF" stroke="#FFF" stroke-width="0.25" textLength="23" lengthAdjust="spacingAndGlyphs" xml:space="preserve">63.10</text>
<rect x="1878" y="257" width="31" height="11" fill="#32CD32"/>
<text x="1882" y="266" font-size="9" fill="#FFF" stroke="#FFF" stroke-width="0.25" textLength="23" lengthAdjust="spacingAndGlyphs" xml:space="preserve">62.58</text>
<rect x="1878" y="326" width="31" height="11" fill="#32CD32"/>
<text x="1882" y="335" font-size="9" fill="#FFF" stroke="#FFF" stroke-width="0.25" textLength="23" lengthAdjust="spacingAndGlyphs" xml:space="preserve">61.37</text>
<rect x="1878" y="337" width="31" height="1" fill="#0000FF"/>
<rect x="1878" y="365" width="31" height="11" fill="#32CD32"/>
<text x="1882" y="374" font-size="9" fill="#FFF" stroke="#FFF" stroke-width="0.25" textLength="23" lengthAdjust="spacingAndGlyphs" xml:space="preserve">60.69</text>
<text x="1880" y="464" font-size="9" fill="#000" stroke="#000" stroke-width="0.25" textLength="38" lengthAdjust="spacingAndGlyphs" xml:space="preserve">235.1819</text>
<rect x="1877" y="469" width="2" height="1" fill="#000"/>
<text x="1879.5" y="472.9" font-size="9" fill="#000" stroke="#000" stroke-width="0.25" xml:space="preserve">200</text>
<rect x="1877" y="511" width="2" height="1" fill="#000"/>
<text x="1879.5" y="514.9" font-size="9" fill="#000" stroke="#000" stroke-width="0.25" xml:space="preserve">100</text>
<rect x="1877" y="553" width="2" height="1" fill="#000"/>
<text x="1879.5" y="556.9" font-size="9" fill="#000" stroke="#000" stroke-width="0.25" xml:space="preserve">0.00</text>
<rect x="1877" y="595" width="2" height="1" fill="#000"/>
<text x="1879.5" y="598.9" font-size="9" fill="#000" stroke="#000" stroke-width="0.25" xml:space="preserve">-100</text>
<rect x="1877" y="637" width="2" height="1" fill="#000"/>
<text x="1879.5" y="640.9" font-size="9" fill="#000" stroke="#000" stroke-width="0.25" xml:space="preserve">-200</text>
<rect x="1877" y="679" width="2" height="1" fill="#000"/>
<text x="1879.5" y="682.9" font-size="9" fill="#000" stroke="#000" stroke-width="0.25" xml:space="preserve">-300</text>
<text x="1882.5" y="680.5" font-size="9" fill="#000" stroke="#000" stroke-width="0.25" textLength="36" lengthAdjust="spacingAndGlyphs" xml:space="preserve">-311.633</text>
<text x="1880" y="696.9" font-size="9" fill="#000" stroke="#000" stroke-width="0.25" xml:space="preserve">100</text>
<text x="1880" y="723.9" font-size="9" fill="#000" stroke="#000" stroke-width="0.25" xml:space="preserve">80</text>
<text x="1880" y="819.9" font-size="9" fill="#000" stroke="#000" stroke-width="0.25" xml:space="preserve">20</text>
<text x="1880" y="846.4" font-size="9" fill="#000" stroke="#000" stroke-width="0.25" xml:space="preserve">0</text>
<text x="1880" y="862" font-size="9" fill="#000" stroke="#000" stroke-width="0.25" textLength="28" lengthAdjust="spacingAndGlyphs" xml:space="preserve">1.2759</text>
<text x="1880" y="897" font-size="9" fill="#000" stroke="#000" stroke-width="0.25" textLength="28" lengthAdjust="spacingAndGlyphs" xml:space="preserve">0.4041</text>
<rect x="3" y="900" width="1" height="4" fill="#000"/>
<text x="2" y="913" font-size="9.2" fill="#000" stroke="#000" stroke-width="0.25" xml:space="preserve">7 Jun 2019</text>
<rect x="67" y="900" width="1" height="4" fill="#000"/>
<text x="66" y="913" font-size="9.2" fill="#000" stroke="#000" stroke-width="0.25" xml:space="preserve">7 Jun 19:00</text>
<rect x="131" y="900" width="1" height="4" fill="#000"/>
<text x="130" y="913" font-size="9.2" fill="#000" stroke="#000" stroke-width="0.25" xml:space="preserve">10 Jun 09:00</text>
<rect x="195" y="900" width="1" height="4" fill="#000"/>
<text x="194" y="913" font-size="9.2" fill="#000" stroke="#000" stroke-width="0.25" xml:space="preserve">11 Jun 03:00</text>
<rect x="259" y="900" width="1" height="4" fill="#000"/>
<text x="258" y="913" font-size="9.2" fill="#000" stroke="#000" stroke-width="0.25" xml:space="preserve">11 Jun 19:00</text>
<rect x="323" y="900" width="1" height="4" fill="#000"/>
<text x="322" y="913" font-size="9.2" fill="#000" stroke="#000" stroke-width="0.25" xml:space="preserve">12 Jun 11:00</text>
<rect x="387" y="900" width="1" height="4" fill="#000"/>
<text x="386" y="913" font-size="9.2" fill="#000" stroke="#000" stroke-width="0.25" xml:space="preserve">13 Jun 03:00</text>
<rect x="451" y="900" width="1" height="4" fill="#000"/>
<text x="450" y="913" font-size="9.2" fill="#000" stroke="#000" stroke-width="0.25" xml:space="preserve">13 Jun 19:00</text>
<rect x="515" y="900" width="1" height="4" fill="#000"/>
<text x="514" y="913" font-size="9.2" fill="#000" stroke="#000" stroke-width="0.25" xml:space="preserve">14 Jun 11:00</text>
<rect x="579" y="900" width="1" height="4" fill="#000"/>
<text x="578" y="913" font-size="9.2" fill="#000" stroke="#000" stroke-width="0.25" xml:space="preserve">17 Jun 01:00</text>
<rect x="643" y="900" width="1" height="4" fill="#000"/>
<text x="642" y="913" font-size="9.2" fill="#000" stroke="#000" stroke-width="0.25" xml:space="preserve">17 Jun 17:00</text>
<rect x="707" y="900" width="1" height="4" fill="#000"/>
<text x="706" y="913" font-size="9.2" fill="#000" stroke="#000" stroke-width="0.25" xml:space="preserve">18 Jun 11:00</text>
<rect x="771" y="900" width="1" height="4" fill="#000"/>
<text x="770" y="913" font-size="9.2" fill="#000" stroke="#000" stroke-width="0.25" xml:space="preserve">19 Jun 03:00</text>
<rect x="835" y="900" width="1" height="4" fill="#000"/>
<text x="834" y="913" font-size="9.2" fill="#000" stroke="#000" stroke-width="0.25" xml:space="preserve">19 Jun 19:00</text>
<rect x="899" y="900" width="1" height="4" fill="#000"/>
<text x="898" y="913" font-size="9.2" fill="#000" stroke="#000" stroke-width="0.25" xml:space="preserve">20 Jun 11:00</text>
<rect x="963" y="900" width="1" height="4" fill="#000"/>
<text x="962" y="913" font-size="9.2" fill="#000" stroke="#000" stroke-width="0.25" xml:space="preserve">21 Jun 03:00</text>
<rect x="1027" y="900" width="1" height="4" fill="#000"/>
<text x="1026" y="913" font-size="9.2" fill="#000" stroke="#000" stroke-width="0.25" xml:space="preserve">21 Jun 19:00</text>
<rect x="1091" y="900" width="1" height="4" fill="#000"/>
<text x="1090" y="913" font-size="9.2" fill="#000" stroke="#000" stroke-width="0.25" xml:space="preserve">24 Jun 09:00</text>
<rect x="1155" y="900" width="1" height="4" fill="#000"/>
<text x="1154" y="913" font-size="9.2" fill="#000" stroke="#000" stroke-width="0.25" xml:space="preserve">25 Jun 03:00</text>
<rect x="1219" y="900" width="1" height="4" fill="#000"/>
<text x="1218" y="913" font-size="9.2" fill="#000" stroke="#000" stroke-width="0.25" xml:space="preserve">25 Jun 19:00</text>
<rect x="1283" y="900" width="1" height="4" fill="#000"/>
<text x="1282" y="913" font-size="9.2" fill="#000" stroke="#000" stroke-width="0.25" xml:space="preserve">26 Jun 11:00</text>
<rect x="1347" y="900" width="1" height="4" fill="#000"/>
<text x="1346" y="913" font-size="9.2" fill="#000" stroke="#000" stroke-width="0.25" xml:space="preserve">27 Jun 03:00</text>
<rect x="1411" y="900" width="1" height="4" fill="#000"/>
<text x="1410" y="913" font-size="9.2" fill="#000" stroke="#000" stroke-width="0.25" xml:space="preserve">27 Jun 19:00</text>
<rect x="1475" y="900" width="1" height="4" fill="#000"/>
<text x="1474" y="913" font-size="9.2" fill="#000" stroke="#000" stroke-width="0.25" xml:space="preserve">28 Jun 11:00</text>
<rect x="1539" y="900" width="1" height="4" fill="#000"/>
<text x="1538" y="913" font-size="9.2" fill="#000" stroke="#000" stroke-width="0.25" xml:space="preserve">1 Jul 01:00</text>
<rect x="1603" y="900" width="1" height="4" fill="#000"/>
<text x="1602" y="913" font-size="9.2" fill="#000" stroke="#000" stroke-width="0.25" xml:space="preserve">1 Jul 17:00</text>
<rect x="1667" y="900" width="1" height="4" fill="#000"/>
<text x="1666" y="913" font-size="9.2" fill="#000" stroke="#000" stroke-width="0.25" xml:space="preserve">2 Jul 11:00</text>
<rect x="1731" y="900" width="1" height="4" fill="#000"/>
<text x="1730" y="913" font-size="9.2" fill="#000" stroke="#000" stroke-width="0.25" xml:space="preserve">3 Jul 03:00</text>
<rect x="1795" y="900" width="1" height="4" fill="#000"/>
<text x="1794" y="913" font-size="9.2" fill="#000" stroke="#000" stroke-width="0.25" xml:space="preserve">3 Jul 19:00</text>
</svg>
</body></html>
